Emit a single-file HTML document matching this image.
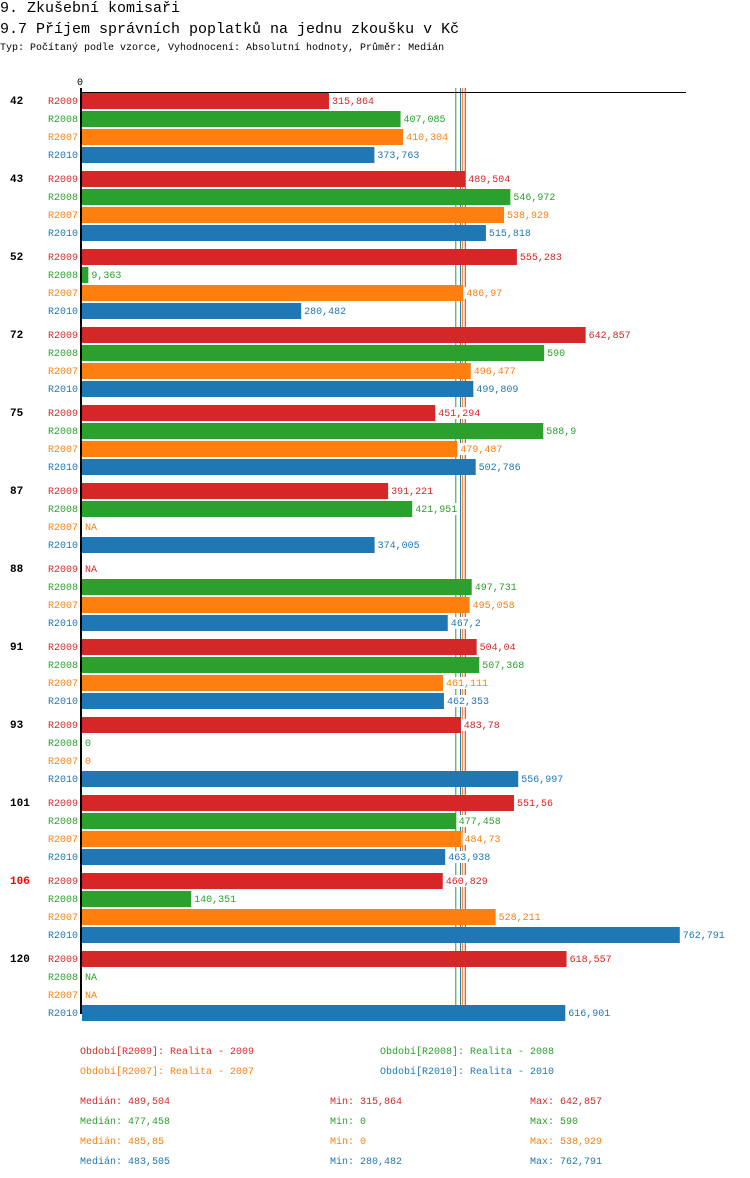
<!DOCTYPE html>
<html><head><meta charset="utf-8"><style>
body{margin:0;background:#fff;width:750px;height:1178px;overflow:hidden;position:relative;font-family:"Liberation Mono","DejaVu Sans Mono",monospace}
.t{position:absolute;white-space:nowrap}
</style></head><body>
<div class="t" style="left:0;top:0;font-size:15px;line-height:18px">9. Zkušební komisaři</div>
<div class="t" style="left:0;top:21px;font-size:15px;line-height:18px">9.7 Příjem správních poplatků na jednu zkoušku v Kč</div>
<div class="t" style="left:0;top:43px;font-size:10px;line-height:12px">Typ: Počítaný podle vzorce, Vyhodnocení: Absolutní hodnoty, Průměr: Medián</div>
<svg id="c" width="750" height="1178" style="position:absolute;left:0;top:0" font-family="Liberation Mono, monospace"></svg>
<script>
const categories=["42","43","52","72","75","87","88","91","93","101","106","120"];
const seriesNames=["R2009","R2008","R2007","R2010"];
const colors=["#d62728","#2ca02c","#ff7f0e","#1f77b4"];
const r2009=[315.864,489.504,555.283,642.857,451.294,391.221,null,504.04,483.78,551.56,460.829,618.557];
const r2008=[407.085,546.972,9.363,590,588.9,421.951,497.731,507.368,0,477.458,140.351,null];
const r2007=[410.304,538.929,486.97,496.477,479.487,null,495.058,461.111,0,484.73,528.211,null];
const r2010=[373.763,515.818,280.482,499.809,502.786,374.005,467.2,462.353,556.997,463.938,762.791,616.901];
const medians=[489.504,477.458,485.85,483.505];
const mins=[315.864,0,0,280.482];
const maxs=[642.857,590,538.929,762.791];
const highlighted=["106"];
const series=[r2009,r2008,r2007,r2010];
const svg=document.getElementById('c');
const NS='http://www.w3.org/2000/svg';
const x0=81,scale=0.785,top0=92,groupH=78,barP=18;
const xs=v=>x0+v*scale;
const fmt=v=>String(v).replace('.',',');
function mk(tag,attrs,txt){const e=document.createElementNS(NS,tag);for(const k in attrs)e.setAttribute(k,attrs[k]);if(txt!==undefined)e.textContent=txt;svg.appendChild(e);return e;}
const bottom=top0+categories.length*groupH-14;
const order=[1,3,2,0];
order.forEach(i=>{const l=mk('line',{x1:xs(medians[i]),x2:xs(medians[i]),y1:88,y2:bottom,stroke:colors[i],'stroke-width':1});

});
categories.forEach((c,g)=>{
  const gy=top0+g*groupH;
  const cl=mk('text',{x:10,y:gy+12,'font-size':11,'font-weight':'bold',fill:highlighted.includes(c)?'#ff0000':'#000'},c);
  
  
  series.forEach((s,i)=>{
    const y=gy+1+i*barP;const v=s[g];
    const sl=mk('text',{x:78,y:y+11,'font-size':10,fill:colors[i],'text-anchor':'end'},seriesNames[i]);
    
    
    let end=x0+1;
    if(v!==null&&v>0){const b=mk('rect',{x:x0+1,y:y,width:xs(v)-x0-1,height:16,fill:colors[i]});
      
      end=xs(v);}
    const txt=v===null?'NA':fmt(v);
    const w=txt.length*6+4;
    const bg=mk('rect',{x:end+1,y:y+2,width:w,height:12,fill:'#fff'});
    
    
    const vl=mk('text',{x:end+3,y:y+11,'font-size':10,fill:colors[i]},txt);
    
    
  });
});
const ax=mk('line',{x1:81,x2:81,y1:88,y2:bottom,stroke:'#000','stroke-width':2});


const tl=mk('line',{x1:80,x2:686,y1:92.5,y2:92.5,stroke:'#000','stroke-width':1});


const z=mk('text',{x:80,y:85,'font-size':10,'text-anchor':'middle'},'0');


const years=["2009","2008","2007","2010"];
const legPos=[[80,1054],[380,1054],[80,1074],[380,1074]];
series.forEach((s,i)=>{
  const l=mk('text',{x:legPos[i][0],y:legPos[i][1],'font-size':10,fill:colors[i]},'Období['+seriesNames[i]+']: Realita - '+years[i]);
  
  
  const y=1104+i*20;
  const a=mk('text',{x:80,y:y,'font-size':10,fill:colors[i]},'Medián: '+fmt(medians[i]));
  
  
  const b=mk('text',{x:330,y:y,'font-size':10,fill:colors[i]},'Min: '+fmt(mins[i]));
  
  
  const d=mk('text',{x:530,y:y,'font-size':10,fill:colors[i]},'Max: '+fmt(maxs[i]));
  
  
});
</script>
</body></html>
